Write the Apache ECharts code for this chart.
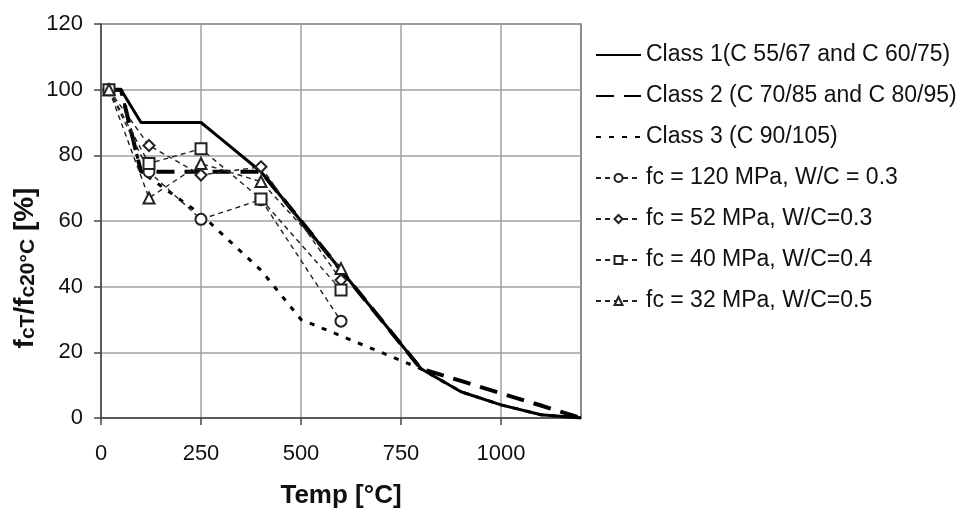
<!DOCTYPE html>
<html>
<head>
<meta charset="utf-8">
<script src="https://cdn.jsdelivr.net/npm/echarts@6/dist/echarts.min.js"></script>
<style>
html,body{margin:0;padding:0;background:#fff;}
#chart{width:963px;height:510px;}
</style>
</head>
<body>
<div id="chart"></div>
<script>
// Data
const seriesNames = [
  'Class 1(C 55/67 and C 60/75)',
  'Class 2 (C 70/85 and C 80/95)',
  'Class 3 (C 90/105)',
  'fc = 120 MPa, W/C = 0.3',
  'fc = 52 MPa, W/C=0.3',
  'fc = 40 MPa, W/C=0.4',
  'fc = 32 MPa, W/C=0.5'
];
const classTemps = [20, 50, 100, 200, 250, 300, 400, 500, 600, 700, 800, 900, 1000, 1100, 1200];
const class1 = [100, 100, 90, 90, 90, 85, 75, 60, 45, 30, 15, 8, 4, 1, 0];
const class2Temps = [20, 50, 100, 250, 400, 500, 600, 700, 800, 900, 1000, 1100, 1200];
const class2 = [100, 100, 75, 75, 75, 60, 45, 30, 15, 11.3, 7.5, 3.8, 0];
const class3Temps = [20, 50, 100, 250, 400, 500, 600, 700, 800, 900, 1000, 1100, 1200];
const class3 = [100, 100, 75, 62, 45, 30, 25, 20, 15, 8, 4, 1, 0];
const testTemps = [20, 120, 250, 400, 600];
const fc120 = [100, 75, 60.5, 66.5, 29.5];
const fc52 = [100, 83, 74, 76.5, 42];
const fc40 = [100, 77.5, 82, 66.7, 39];
const fc32 = [100, 67, 77.5, 72, 45.5];
const xTicks = [0, 250, 500, 750, 1000];

const zip = (xs, ys) => xs.map((x, i) => [x, ys[i]]);

const font = 'Liberation Sans, Arial, sans-serif';
const testLine = { color: '#222', width: 1.4, type: [5, 4] };
function testSeries(name, data, symbol) {
  return {
    name, type: 'line', data: zip(testTemps, data),
    symbol, symbolSize: 11, showSymbol: true,
    itemStyle: { color: '#222', borderColor: '#222', borderWidth: 1.2 },
    lineStyle: testLine, z: 5
  };
}
function classSeries(name, xs, ys, width, type) {
  return {
    name, type: 'line', data: zip(xs, ys), symbol: 'none',
    itemStyle: { color: '#000' },
    lineStyle: { color: '#000', width, type }, z: 3
  };
}

const chart = echarts.init(document.getElementById('chart'), null, { renderer: 'canvas' });
chart.setOption({
  animation: false,
  backgroundColor: '#fff',
  textStyle: { fontFamily: font },
  grid: {
    left: 101, right: 382, top: 24, bottom: 92, containLabel: false, outerBoundsMode: 'none',
    show: true, borderColor: '#666', borderWidth: 1.5, backgroundColor: 'transparent'
  },
  legend: {
    orient: 'vertical', left: 590, top: 38,
    itemWidth: 45, itemHeight: 10, itemGap: 17,
    textStyle: { fontSize: 23, lineHeight: 24, color: '#111', fontFamily: font },
    data: seriesNames.map((n, i) => i < 3 ? { name: n, itemStyle: { opacity: 0 } } : { name: n })
  },
  graphic: [{
    type: 'text', x: 24, y: 268, rotation: Math.PI / 2,
    style: {
      text: '{b|f}{s|cT}{b|/f}{s|c20°C}{b| [%]}',
      align: 'center', verticalAlign: 'middle',
      rich: {
        b: { fontSize: 28, fontWeight: 'bold', fill: '#111', fontFamily: font, verticalAlign: 'bottom', lineHeight: 30 },
        s: { fontSize: 21, fontWeight: 'bold', fill: '#111', fontFamily: font, verticalAlign: 'bottom', lineHeight: 12 }
      }
    }
  }],
  xAxis: {
    type: 'value', min: 0, max: 1200, interval: 250,
    name: 'Temp [°C]', nameLocation: 'middle', nameGap: 65,
    nameTextStyle: { fontSize: 26, fontWeight: 'bold', color: '#111', fontFamily: font },
    axisLine: { show: true, lineStyle: { color: '#444', width: 1.5 } },
    axisTick: { show: true, length: 7, inside: false, lineStyle: { color: '#444', width: 1.5 }, customValues: xTicks },
    axisLabel: { fontSize: 22, color: '#111', margin: 25, fontFamily: font, customValues: xTicks, formatter: v => String(v) },
    splitLine: { show: true, lineStyle: { color: '#a0a0a0', width: 1.5 } }
  },
  yAxis: {
    type: 'value', min: 0, max: 120, interval: 20,
    axisLine: { show: true, lineStyle: { color: '#444', width: 1.5 } },
    axisTick: { show: true, length: 7, inside: false, lineStyle: { color: '#444', width: 1.5 } },
    axisLabel: { fontSize: 22, color: '#111', margin: 18, fontFamily: font },
    splitLine: { show: true, lineStyle: { color: '#a0a0a0', width: 1.5 } }
  },
  series: [
    classSeries(seriesNames[0], classTemps, class1, 3, 'solid'),
    classSeries(seriesNames[1], class2Temps, class2, 4, [18, 10]),
    classSeries(seriesNames[2], class3Temps, class3, 3, [5, 8]),
    testSeries(seriesNames[3], fc120, 'emptyCircle'),
    testSeries(seriesNames[4], fc52, 'emptyDiamond'),
    testSeries(seriesNames[5], fc40, 'emptyRect'),
    testSeries(seriesNames[6], fc32, 'emptyTriangle')
  ]
});
</script>
</body>
</html>
